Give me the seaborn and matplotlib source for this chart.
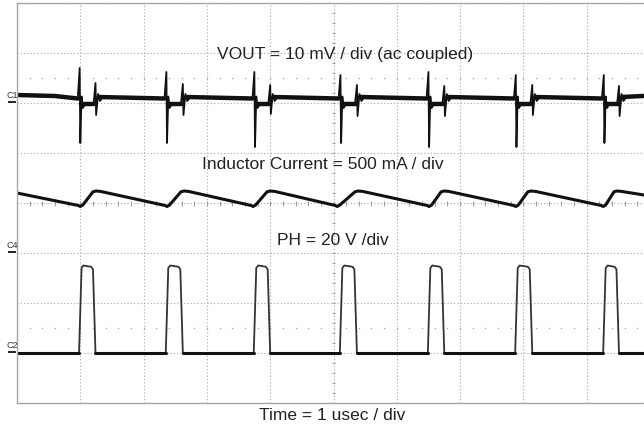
import numpy as np
import pandas as pd
import matplotlib
matplotlib.use("Agg")
from matplotlib import pyplot as plt
import seaborn as sns

# scope settings (per division)
vout_div = 10.0   # mV / div
il_div = 500.0    # mA / div
ph_div = 20.0     # V / div

# channel ground markers, divisions from screen centre
c1_level = 2.0
c4_level = -1.0
c2_level = -3.0

# PH switching edges (us, 1 us / div)
ph_on = [0.98, 2.35, 3.74, 5.10, 6.49, 7.87, 9.26]
ph_off = [1.24, 2.62, 4.00, 5.37, 6.75, 8.14, 9.51]
ph_low = 0.0    # V
ph_high = 35.0  # V

# VOUT ripple, mV (ac coupled)
vout_base = 1.2
vout_dip = -0.2
vout_on_up = [7.0, 6.2, 6.2, 5.6, 6.2, 5.6, 5.6]
vout_on_down = [-8.0, -8.0, -8.8, -8.0, -8.8, -8.8, -8.0]
vout_off_up = [4.0, 3.8, 3.6, 3.6, 3.4, 3.6, 3.4]
vout_off_down = [-2.4, -2.4, -2.2, -2.6, -2.6, -2.4, -2.6]

# inductor current, mA
il_valley_t = [1.00, 2.37, 3.73, 5.06, 6.51, 7.88, 9.26]
il_peak_t = [1.25, 2.64, 4.00, 5.39, 6.75, 8.12, 9.48]
il_valley = 470.0
il_peak = 620.0
il_start = 600.0
il_end = 550.0


def trace(points, scale, level):
    df = pd.DataFrame(points, columns=['t', 'v', 'seg'])
    df['div'] = df['v'] / scale + level
    return df


# build the three waveforms from the read values
# PH: full trace plus the flat (noisy) low parts
pts = [(0.0, ph_low, 0)]
flat = [(0.0, ph_low, 0)]
for i, (on, off) in enumerate(zip(ph_on, ph_off)):
    pts += [(on, ph_low, 0), (on + 0.04, ph_high - 1, 0), (on + 0.07, ph_high, 0),
            (off - 0.07, ph_high - 0.5, 0), (off - 0.04, ph_high - 1.5, 0),
            (off, ph_low, 0)]
    flat += [(on, ph_low, i), (off, ph_low, i + 1)]
pts.append((10.2, ph_low, 0))
flat.append((10.2, ph_low, len(ph_on)))
ph = trace(pts, ph_div, c2_level)
ph_flat = trace(flat, ph_div, c2_level)

pts = [(0.0, vout_base + 0.4, 0), (0.6, vout_base + 0.2, 0)]
flat = [(0.0, vout_base + 0.4, 0), (0.6, vout_base + 0.2, 0)]
for i, (on, off) in enumerate(zip(ph_on, ph_off)):
    pts += [(on - 0.02, vout_base - 0.3, 0), (on + 0.01, vout_on_up[i], 0),
            (on + 0.02, vout_on_down[i], 0), (on + 0.04, vout_dip + 1.5, 0),
            (on + 0.06, vout_dip - 0.8, 0), (on + 0.10, vout_dip, 0),
            (off - 0.03, vout_dip, 0), (off, vout_off_up[i], 0),
            (off + 0.01, vout_off_down[i], 0), (off + 0.04, vout_base + 0.6, 0),
            (off + 0.07, vout_base - 0.8, 0), (off + 0.12, vout_base, 0)]
    flat += [(on - 0.02, vout_base - 0.3, 2 * i),
             (on + 0.03, vout_dip, 2 * i + 1), (off - 0.02, vout_dip, 2 * i + 1),
             (off + 0.05, vout_base, 2 * i + 2)]
pts.append((10.2, vout_base + 0.4, 0))
flat.append((10.2, vout_base + 0.4, 2 * len(ph_on)))
vout = trace(pts, vout_div, c1_level)
vout_flat = trace(flat, vout_div, c1_level)

pts = [(0.0, il_start, 0)]
for v, p in zip(il_valley_t, il_peak_t):
    pts += [(v - 0.03, il_valley + 5, 0), (v, il_valley - 5, 0),
            (v + 0.04, il_valley + 10, 0), (p - 0.05, il_peak - 8, 0),
            (p, il_peak, 0), (p + 0.07, il_peak - 4, 0)]
pts.append((10.2, il_end, 0))
il = trace(pts, il_div, c4_level)

sns.set_theme(style="white")
plt.rcParams['font.family'] = ['Liberation Sans', 'DejaVu Sans']

fig = plt.figure(figsize=(6.44, 4.29), dpi=100)
ax = fig.add_axes([17 / 644, 26 / 429, 633 / 644, 400 / 429])
ax.set_xlim(0, 10)
ax.set_ylim(-4, 4)

# graticule
ax.set_xticks(np.arange(0, 11))
ax.set_yticks(np.arange(-4, 5))
ax.tick_params(length=0, labelbottom=False, labelleft=False)
ax.grid(True, color='#a8a8a8', lw=0.8, ls=(0, (1, 2)))
for side in ['left', 'top', 'bottom', 'right']:
    ax.spines[side].set_color('#a8a8a8')
    ax.spines[side].set_linewidth(1)
ax.vlines(np.arange(0, 10.01, 0.2), -0.05, 0.05, color='#a0a0a0', lw=0.8)
ax.hlines(np.arange(-4, 4.01, 0.2), 4.97, 5.03, color='#a0a0a0', lw=0.8)
dots = np.arange(0.2, 10, 0.2)
for yy in (2.5, -2.5):
    ax.plot(dots, np.full_like(dots, yy), ls='none', marker='s', ms=1,
            color='#b0b0b0', mew=0)

# traces
sns.lineplot(data=vout, x='t', y='div', estimator=None, sort=False,
             color='#111111', lw=1.3, ax=ax)
sns.lineplot(data=vout_flat, x='t', y='div', units='seg', estimator=None,
             sort=False, color='#111111', lw=3.2, ax=ax)
sns.lineplot(data=il, x='t', y='div', estimator=None, sort=False,
             color='#111111', lw=2.2, ax=ax)
sns.lineplot(data=ph, x='t', y='div', estimator=None, sort=False,
             color='#333333', lw=1.3, ax=ax)
sns.lineplot(data=ph_flat, x='t', y='div', units='seg', estimator=None,
             sort=False, color='#111111', lw=2.2, ax=ax)
ax.set_xlabel('')
ax.set_ylabel('')

# channel markers
for name, lvl in [('C1', c1_level), ('C4', c4_level), ('C2', c2_level)]:
    ax.hlines(lvl + 0.02, -0.15, -0.02, color='#222222', lw=1.4, clip_on=False)
    ax.text(-0.165, lvl + 0.06, name, fontsize=6.5, color='#333333',
            ha='left', va='bottom', clip_on=False)

txt = dict(fontsize=12.5, color='#222222', ha='center', va='center')
ax.text(5.18, 2.98, 'VOUT = 10 mV / div (ac coupled)', **txt)
ax.text(4.83, 0.78, 'Inductor Current = 500 mA / div', **txt)
ax.text(4.99, -0.74, 'PH = 20 V /div', **txt)
fig.text(332 / 644, 1 - 415 / 429, 'Time = 1 usec / div', **txt)

fig.savefig('out.png', dpi=100)
